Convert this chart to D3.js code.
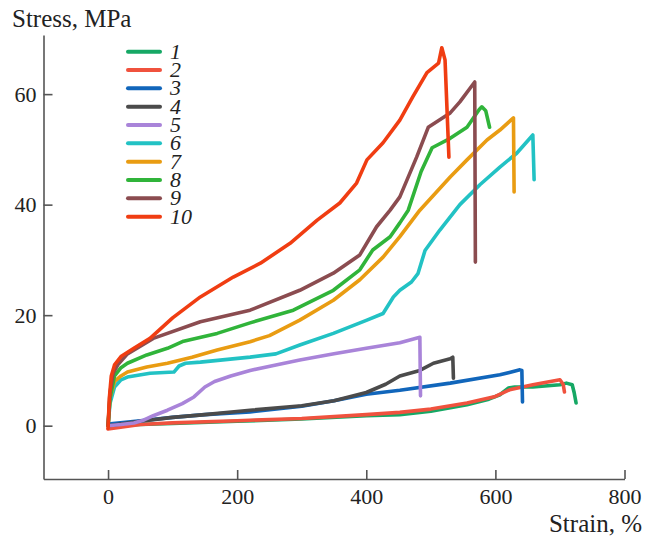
<!DOCTYPE html>
<html>
<head>
<meta charset="utf-8">
<script src="https://cdn.jsdelivr.net/npm/d3@7"></script>
<style>
  html, body { margin: 0; padding: 0; background: #fff; }
  svg { display: block; }
</style>
</head>
<body>
<svg id="chart" width="646" height="538"></svg>
<script>
// Stress–strain curves: [strain %, stress MPa]
const curve1 = [[0,0],[50,0.2],[100,0.4],[200,0.8],[300,1.2],[400,1.8],[452,2],[500,2.6],[556,3.8],[590,4.8],[607,5.6],[620,6.8],[630,7],[658,7],[700,7.4],[710,7.7],[719,7.4],[722,6],[725,4.1]];
const curve2 = [[0,-0.6],[50,0.2],[100,0.5],[200,0.9],[300,1.3],[400,2],[452,2.4],[500,3],[556,4.1],[600,5.3],[622,6.5],[658,7.4],[700,8.3],[705,7.5],[707,6.1]];
const curve3 = [[0,0.3],[50,0.9],[100,1.5],[150,2],[220,2.5],[300,3.5],[350,4.5],[400,5.7],[452,6.4],[530,7.7],[607,9.2],[638,10.1],[641,10],[642,4.3]];
const curve4 = [[0,0],[50,0.8],[100,1.5],[150,2],[220,2.8],[300,3.6],[350,4.5],[400,6],[430,7.5],[452,9],[483,10],[504,11.3],[530,12.1],[534,12.4],[535,8.6]];
const curve5 = [[0,0],[20,0.2],[40,0.5],[55,1],[70,1.8],[92,2.8],[115,4],[133,5.2],[150,7],[165,8],[190,9],[220,10],[260,11],[297,11.9],[350,13],[400,14],[452,15],[483,16],[484,5.4]];
const curve6 = [[0,0],[3,4],[10,7],[20,8.3],[30,8.8],[65,9.5],[102,9.7],[110,10.8],[120,11.3],[143,11.5],[220,12.4],[260,13],[297,14.6],[349,16.7],[401,19.1],[426,20.3],[442,23.3],[452,24.5],[470,26],[480,27.5],[491,31.7],[514,35.4],[545,40],[576,43.6],[607,46.8],[633,49.3],[658,52.6],[660,44.5]];
const curve7 = [[0,0],[3,5],[10,8],[20,9],[30,9.7],[60,10.6],[92,11.3],[130,12.4],[169,13.7],[220,15.2],[250,16.3],[297,19.1],[349,22.7],[390,26.4],[426,30.5],[452,34.2],[483,39],[530,45],[556,48.1],[587,51.7],[607,53.5],[628,55.7],[629,42.3]];
const curve8 = [[0,0],[3,5],[10,9],[20,10.5],[30,11.3],[60,12.8],[92,14],[117,15.3],[169,16.7],[220,18.6],[287,20.9],[349,24.5],[390,28.2],[410,31.8],[437,34.2],[452,36.7],[465,39],[485,46],[502,50.3],[530,52],[556,54],[575,57.2],[579,57.7],[585,57],[591,54]];
const curve9 = [[0,0],[3,6],[8,9.5],[15,11],[30,13],[70,15.8],[143,18.8],[220,20.9],[297,24.5],[349,27.6],[390,30.9],[416,36],[437,39],[452,41.4],[478,48.6],[496,54],[530,56.6],[545,58.6],[568,62.2],[569,29.6]];
const curve10 = [[0,-0.5],[2,5],[5,9],[10,11],[20,12.5],[40,14],[65,15.8],[100,19.5],[143,23.3],[194,26.9],[236,29.4],[282,33],[324,37.2],[359,40.3],[385,43.9],[401,48.1],[426,51.2],[452,55.3],[472,59.5],[494,63.9],[512,65.6],[517,68.4],[522,66.2],[528,48.6]];

const seriesLabels = ["1","2","3","4","5","6","7","8","9","10"];
const seriesColors = ["#16a865","#f0523e","#1166bb","#4b4b4b","#a984d9","#22c2c4","#e99c12","#30b43a","#8b4c50","#f03d12"];
const xTicks = [0, 200, 400, 600, 800];
const yTicks = [0, 20, 40, 60];

const curves = [curve1, curve2, curve3, curve4, curve5, curve6, curve7, curve8, curve9, curve10];

const svg = d3.select("#chart");
const font = "'Liberation Serif', 'Times New Roman', serif";

const x = d3.scaleLinear().domain([-100, 800]).range([43.5, 624.5]);
const y = d3.scaleLinear().domain([-9.65, 70.7]).range([479, 35]);

const axisColor = "#555";

// y axis: ticks point into the plot
const yAxis = svg.append("g")
  .attr("transform", `translate(${x(-100)},0)`)
  .call(d3.axisLeft(y).tickValues(yTicks).tickSizeInner(-9).tickSizeOuter(0).tickPadding(8));
yAxis.select(".domain").attr("stroke", axisColor).attr("stroke-width", 1.6);
yAxis.selectAll(".tick line").attr("stroke", axisColor).attr("stroke-width", 1.6);
yAxis.selectAll(".tick text")
  .attr("x", -7)
  .attr("fill", "#222").attr("font-family", font).attr("font-size", 22);

// x axis: ticks point upward
const xAxis = svg.append("g")
  .attr("transform", `translate(0,${y(-9.65)})`)
  .call(d3.axisBottom(x).tickValues(xTicks).tickSizeInner(-9).tickSizeOuter(0).tickPadding(6));
xAxis.select(".domain").attr("stroke", axisColor).attr("stroke-width", 1.6);
xAxis.selectAll(".tick line").attr("stroke", axisColor).attr("stroke-width", 1.6);
xAxis.selectAll(".tick text")
  .attr("y", 9)
  .attr("fill", "#222").attr("font-family", font).attr("font-size", 22);

// axis titles
svg.append("text").attr("x", 12).attr("y", 27)
  .attr("font-family", font).attr("font-size", 25).attr("fill", "#222")
  .text("Stress, MPa");
svg.append("text").attr("x", 642).attr("y", 532).attr("text-anchor", "end")
  .attr("font-family", font).attr("font-size", 25).attr("fill", "#222")
  .text("Strain, %");

// curves
const line = d3.line().x(d => x(d[0])).y(d => y(d[1])).curve(d3.curveLinear);
svg.append("g").selectAll("path")
  .data(curves)
  .join("path")
  .attr("d", line)
  .attr("fill", "none")
  .attr("stroke", (d, i) => seriesColors[i])
  .attr("stroke-width", 3.6)
  .attr("stroke-linejoin", "round")
  .attr("stroke-linecap", "round");

// legend
const legend = svg.append("g");
const legendY = d3.scaleLinear().domain([0, 9]).range([51.7, 216.7]);
seriesLabels.forEach((lab, i) => {
  legend.append("line")
    .attr("x1", 128).attr("x2", 160)
    .attr("y1", legendY(i)).attr("y2", legendY(i))
    .attr("stroke", seriesColors[i]).attr("stroke-width", 4).attr("stroke-linecap", "round");
  legend.append("text")
    .attr("x", 170).attr("y", legendY(i) + 7)
    .attr("font-family", font).attr("font-style", "italic").attr("font-size", 22).attr("fill", "#222")
    .text(lab);
});
</script>
</body>
</html>
